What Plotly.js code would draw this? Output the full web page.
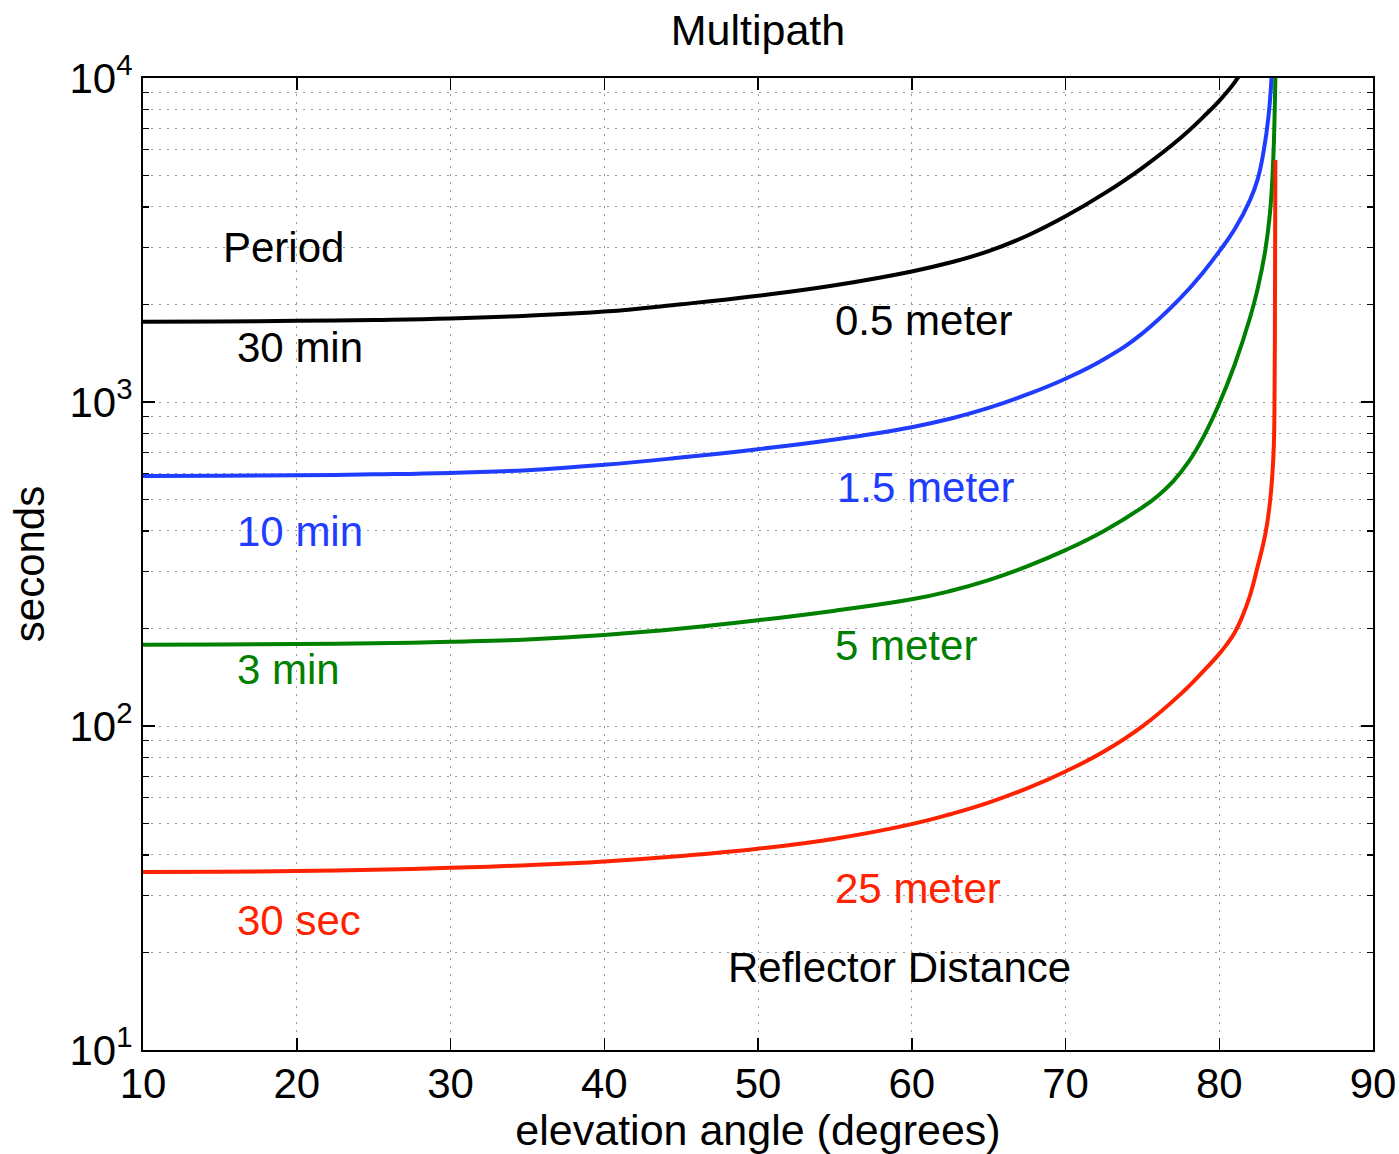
<!DOCTYPE html>
<html>
<head>
<meta charset="utf-8">
<script src="https://cdn.plot.ly/plotly-3.0.1.min.js"></script>
<style>
  html, body { margin: 0; padding: 0; background: #fff; }
  #chart { width: 1399px; height: 1154px; }
</style>
</head>
<body>
<div id="chart"></div>
<script>
// Multipath period (seconds) versus satellite elevation angle (degrees),
// one curve per reflector distance.

const elev05 = [10, 15, 20, 25, 30, 35, 40, 45, 50, 55, 60, 62.5, 65, 67.5, 70, 72.5, 75, 77.5, 79, 80, 81, 81.5];
const period05 = [1770, 1773, 1780, 1792, 1811, 1847, 1901, 2003, 2128, 2293, 2529, 2695, 2921, 3258, 3741, 4395, 5284, 6540, 7613, 8502, 9694, 10568];

const elev15 = [10, 15, 20, 25, 30, 35, 40, 45, 50, 55, 60, 62.5, 65, 67.5, 70, 72.5, 75, 77.5, 79, 80, 81, 82, 82.5, 82.9, 83.2, 83.4, 83.5];
const period15 = [591, 592, 594, 598, 604, 616, 640, 674, 715, 766, 836, 888, 959, 1055, 1180, 1355, 1629, 2099, 2529, 2917, 3412, 4198, 4875, 5998, 7586, 10000, 12600];

const elev5 = [10, 15, 20, 25, 30, 35, 40, 45, 50, 55, 60, 62.5, 65, 67.5, 70, 72.5, 75, 76, 77, 78, 79, 80, 81, 82, 82.5, 83, 83.3, 83.5, 83.65, 83.7];
const period5 = [178, 178.5, 179, 180, 182, 185, 191, 200, 212, 227, 246, 261, 282, 311, 349, 400, 473, 513, 569, 653, 785, 989, 1303, 1820, 2239, 2951, 3837, 5420, 10000, 14000];

const elev25 = [10, 15, 20, 25, 30, 35, 40, 45, 50, 55, 60, 62.5, 65, 67.5, 70, 72.5, 75, 77.5, 79, 80, 80.5, 81, 81.5, 82, 82.5, 83, 83.3, 83.45, 83.55, 83.6, 83.63, 83.65];
const period25 = [35.4, 35.5, 35.7, 36.0, 36.5, 37.2, 38.2, 39.7, 41.8, 44.9, 49.8, 53.4, 58.0, 64.2, 72.4, 83.4, 99.7, 125.6, 148.2, 167.0, 179.0, 194.0, 217.7, 252.8, 311.1, 391.5, 491.7, 594.8, 731.6, 1107, 2570, 5585];

const xTicks = [10, 20, 30, 40, 50, 60, 70, 80, 90];
const yTicks = [10, 100, 1000, 10000];
const yTickText = ['10<sup>1</sup>', '10<sup>2</sup>', '10<sup>3</sup>', '10<sup>4</sup>'];
const yMinor = [];
[10, 100, 1000].forEach(d => { for (let k = 2; k <= 9; k++) yMinor.push(k * d); });

// Curve labels: [text, x (deg), log10(seconds), colour]
const labels = [
  ['Period', 15.1, 3.478, '#000000'],
  ['30 min', 16, 3.167, '#000000'],
  ['0.5 meter', 54.9, 3.253, '#000000'],
  ['10 min', 16, 2.599, '#1f3cff'],
  ['1.5 meter', 55, 2.735, '#1f3cff'],
  ['3 min', 16, 2.173, '#008000'],
  ['5 meter', 54.9, 2.247, '#008000'],
  ['30 sec', 16, 1.401, '#ff2200'],
  ['25 meter', 54.9, 1.5, '#ff2200'],
  ['Reflector Distance', 47.9, 1.256, '#000000']
];

const FONT = 'Liberation Sans, Arial, Helvetica, sans-serif';

function curve(x, y, color) {
  return {
    x: x, y: y, type: 'scatter', mode: 'lines',
    line: { color: color, width: 4, shape: 'spline', smoothing: 1.3, simplify: false },
    hoverinfo: 'skip', showlegend: false
  };
}

const data = [
  curve(elev05, period05, '#000000'),
  curve(elev15, period15, '#1f3cff'),
  curve(elev5, period5, '#008000'),
  curve(elev25, period25, '#ff2200')
];

const gridStyle = { gridcolor: '#9a9a9a', gridwidth: 1, griddash: '2px,6px' };

const layout = {
  width: 1399, height: 1154,
  margin: { l: 143, r: 26, t: 78, b: 104 },
  paper_bgcolor: '#ffffff', plot_bgcolor: '#ffffff',
  font: { family: FONT, size: 42, color: '#000000' },
  showlegend: false,
  title: {
    text: 'Multipath',
    x: 0.5, xref: 'paper', xanchor: 'center',
    y: 1 - 30 / 1154, yref: 'container', yanchor: 'middle',
    font: { family: FONT, size: 43, color: '#000000' }
  },
  xaxis: Object.assign({
    range: [10, 90], tickmode: 'array', tickvals: xTicks,
    ticks: 'inside', ticklen: 12, tickwidth: 1.5, tickcolor: '#000',
    showline: true, linecolor: '#000', linewidth: 2, mirror: 'ticks',
    showgrid: true, zeroline: false, ticklabelstandoff: -4,
    tickfont: { family: FONT, size: 42, color: '#000' },
    title: { text: 'elevation angle (degrees)', standoff: 8,
             font: { family: FONT, size: 43, color: '#000' } }
  }, gridStyle),
  yaxis: Object.assign({
    type: 'log', range: [1, 4], tickmode: 'array',
    tickvals: yTicks, ticktext: yTickText,
    ticks: 'inside', ticklen: 12, tickwidth: 1.5, tickcolor: '#000',
    showline: true, linecolor: '#000', linewidth: 2, mirror: 'ticks',
    showgrid: true, zeroline: false,
    tickfont: { family: FONT, size: 42, color: '#000' },
    title: { text: 'seconds', standoff: 12,
             font: { family: FONT, size: 42, color: '#000' } },
    minor: Object.assign({
      tickmode: 'array', tickvals: yMinor,
      ticks: 'inside', ticklen: 6, tickwidth: 1.2, tickcolor: '#000',
      showgrid: true
    }, gridStyle)
  }, gridStyle),
  annotations: labels.map(([text, x, y, color]) => ({
    text: text, x: x, y: y, xref: 'x', yref: 'y',
    xanchor: 'left', yanchor: 'middle', showarrow: false,
    font: { family: FONT, size: 42, color: color }
  }))
};

Plotly.newPlot('chart', data, layout, { staticPlot: true, displayModeBar: false });
</script>
</body>
</html>
